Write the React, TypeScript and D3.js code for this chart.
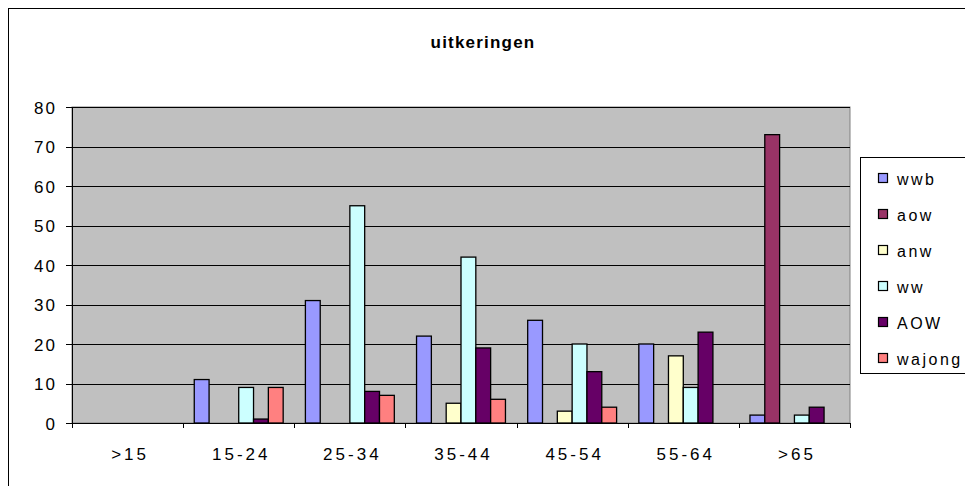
import React from "react";
import * as d3 from "d3";

const categories = [">15", "15-24", "25-34", "35-44", "45-54", "55-64", ">65"];
const seriesNames = ["wwb", "aow", "anw", "ww", "AOW", "wajong"];
const wwb = [0, 11, 31, 22, 26, 20, 2];
const aow = [0, 0, 0, 0, 0, 0, 73];
const anw = [0, 0, 0, 5, 3, 17, 0];
const ww = [0, 9, 55, 42, 20, 9, 2];
const AOW = [0, 1, 8, 19, 13, 23, 4];
const wajong = [0, 9, 7, 6, 4, 0, 0];
const seriesColors = ["#9999FF", "#993366", "#FFFFCC", "#CCFFFF", "#660066", "#FF8080"];
const yTicks = [0, 10, 20, 30, 40, 50, 60, 70, 80];
const title = "uitkeringen";

const seriesValues = [wwb, aow, anw, ww, AOW, wajong];

export default function App() {
  const W = 965, H = 486;
  const left = 72, right = 850, top = 107, bottom = 423;
  const font = "'Liberation Sans', Arial, sans-serif";

  const x0 = d3.scaleBand<string>().domain(categories).range([left, right]).paddingInner(0).paddingOuter(0);
  const bw = x0.bandwidth();
  const gap = bw * 1.5 / 7.5;
  const x1 = d3.scaleBand<string>().domain(seriesNames).range([gap / 2, bw - gap / 2]).padding(0);
  const y = d3.scaleLinear().domain([0, 80]).range([bottom, top]);

  const legendX = 860, legendY = 157, legendH = 216, legendW = 120;
  const rowH = 36;
  const ySp = 2, xSp = 3;

  return (
    <svg width={W} height={H} style={{ position: "absolute", left: 0, top: 0, background: "#fff" }}>
      <rect x={8.5} y={8.5} width={1000} height={1000} fill="#fff" stroke="#000" strokeWidth={1} />
      <text x={483} y={48} textAnchor="middle" fontFamily={font} fontWeight="bold" fontSize={17} letterSpacing={1.2} fill="#000">
        {title}
      </text>
      <rect x={left} y={top} width={right - left} height={bottom - top} fill="#C0C0C0" stroke="#808080" strokeWidth={1} />
      {yTicks.map((t) => (
        <g key={t}>
          {t > 0 && <line x1={left} x2={right} y1={Math.round(y(t)) + 0.5} y2={Math.round(y(t)) + 0.5} stroke="#000" strokeWidth={1} />}
          <line x1={left - 6} x2={left} y1={Math.round(y(t)) + 0.5} y2={Math.round(y(t)) + 0.5} stroke="#000" strokeWidth={1} />
          <text x={55 + ySp} y={y(t) + 6.5} textAnchor="end" fontFamily={font} fontSize={17} letterSpacing={ySp} fill="#000">
            {t}
          </text>
        </g>
      ))}
      {categories.map((c, ci) =>
        seriesValues.map((vals, si) => {
          const v = vals[ci];
          if (v <= 0) return null;
          const bx = (x0(c) as number) + (x1(seriesNames[si]) as number);
          return (
            <rect
              key={c + si}
              x={bx}
              y={y(v)}
              width={x1.bandwidth()}
              height={bottom - y(v)}
              fill={seriesColors[si]}
              stroke="#000"
              strokeWidth={1.3}
            />
          );
        })
      )}
      <line x1={left + 0.5} x2={left + 0.5} y1={top} y2={bottom} stroke="#000" strokeWidth={1} />
      <line x1={left} x2={right} y1={bottom + 0.5} y2={bottom + 0.5} stroke="#000" strokeWidth={1} />
      {[...categories.map((c) => x0(c) as number), right].map((xv, i) => (
        <line key={i} x1={Math.round(xv) + 0.5} x2={Math.round(xv) + 0.5} y1={bottom} y2={bottom + 5} stroke="#000" strokeWidth={1} />
      ))}
      {categories.map((c) => (
        <text key={c} x={(x0(c) as number) + bw / 2 + xSp / 2 + 1} y={460} textAnchor="middle" fontFamily={font} fontSize={17} letterSpacing={xSp} fill="#000">
          {c}
        </text>
      ))}
      <rect x={legendX + 0.5} y={legendY + 0.5} width={legendW} height={legendH} fill="#fff" stroke="#000" strokeWidth={1} />
      {seriesNames.map((s, i) => {
        const cy = legendY + 22 + i * rowH;
        return (
          <g key={s}>
            <rect x={878.5} y={cy - 5.5} width={9} height={9} fill={seriesColors[i]} stroke="#000" strokeWidth={1.2} />
            <text x={897} y={cy + 6} fontFamily={font} fontSize={16} letterSpacing={2.5} fill="#000">
              {s}
            </text>
          </g>
        );
      })}
    </svg>
  );
}
